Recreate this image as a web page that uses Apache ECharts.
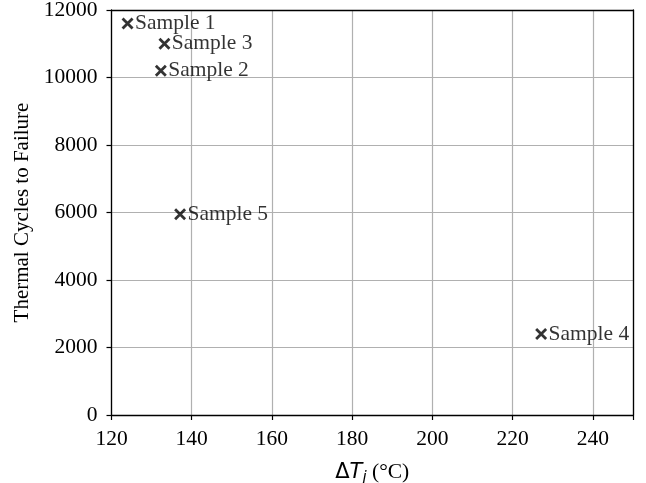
<!DOCTYPE html>
<html>
<head>
<meta charset="utf-8">
<script src="https://cdn.jsdelivr.net/npm/echarts@6/dist/echarts.min.js"></script>
<style>
  html, body { margin: 0; padding: 0; background: #fff; }
  #chart { width: 646px; height: 483px; }
</style>
</head>
<body>
<div id="chart"></div>
<script>
// 数据
var sampleNames = ['Sample 1', 'Sample 2', 'Sample 3', 'Sample 4', 'Sample 5'];
var deltaTj = [124.0, 132.3, 133.2, 227.1, 137.1];
var cycles = [11600, 10200, 11000, 2400, 5950];
var xTicks = [120, 140, 160, 180, 200, 220, 240];
var yTicks = [0, 2000, 4000, 6000, 8000, 10000, 12000];

var points = [];
for (var i = 0; i < sampleNames.length; i++) {
  points.push({ name: sampleNames[i], value: [deltaTj[i], cycles[i]] });
}

var serif = 'Liberation Serif';
var frameLine = { show: true, onZero: false, lineStyle: { color: '#000', width: 1.3 } };
var myChart = echarts.init(document.getElementById('chart'));
var option = {
  animation: false,
  grid: {
    left: 111.5,
    right: 13,
    top: 10,
    bottom: 68,
    outerBoundsMode: 'none'
  },
  xAxis: [
    {
      type: 'value',
      min: 120,
      max: 250,
      interval: 20,
      name: '{d|Δ}{m|T}{s|j}{n| (°C)}',
      nameLocation: 'middle',
      nameGap: 44,
      nameTextStyle: {
        rich: {
          d: { fontFamily: 'DejaVu Sans', fontSize: 21, color: '#000' },
          m: { fontFamily: 'DejaVu Sans', fontStyle: 'italic', fontSize: 21, color: '#000' },
          s: { fontFamily: 'DejaVu Sans', fontStyle: 'italic', fontSize: 15, color: '#000', padding: [12, 0, 0, 0] },
          n: { fontFamily: serif, fontSize: 21.5, color: '#000' }
        }
      },
      axisLine: frameLine,
      axisTick: { show: true, length: 5, lineStyle: { color: '#000', width: 1.2 } },
      axisLabel: {
        color: '#000', fontFamily: serif, fontSize: 21.5, margin: 13,
        formatter: function (v) { return xTicks.indexOf(v) >= 0 ? String(v) : ''; }
      },
      splitLine: { show: true, lineStyle: { color: '#b0b0b0', width: 1.2 } }
    },
    {
      type: 'value',
      position: 'top',
      min: 120,
      max: 250,
      axisLine: frameLine,
      axisTick: { show: false },
      axisLabel: { show: false },
      splitLine: { show: false }
    }
  ],
  yAxis: [
    {
      type: 'value',
      min: 0,
      max: 12000,
      interval: 2000,
      name: 'Thermal Cycles to Failure',
      nameLocation: 'middle',
      nameGap: 78,
      nameTextStyle: { color: '#000', fontFamily: serif, fontSize: 21 },
      axisLine: frameLine,
      axisTick: { show: true, length: 5, lineStyle: { color: '#000', width: 1.2 } },
      axisLabel: {
        color: '#000', fontFamily: serif, fontSize: 21.5, margin: 14,
        formatter: function (v) { return yTicks.indexOf(v) >= 0 ? String(v) : ''; }
      },
      splitLine: { show: true, lineStyle: { color: '#b0b0b0', width: 1.2 } }
    },
    {
      type: 'value',
      position: 'right',
      min: 0,
      max: 12000,
      axisLine: frameLine,
      axisTick: { show: false },
      axisLabel: { show: false },
      splitLine: { show: false }
    }
  ],
  series: [
    {
      type: 'scatter',
      data: points,
      symbol: 'path://M0,0L10,10M10,0L0,10',
      symbolSize: 10,
      itemStyle: { color: '#000', borderColor: '#000', borderWidth: 2.8 },
      label: {
        show: true,
        position: 'right',
        distance: 1,
        formatter: '{b}',
        color: '#000',
        fontFamily: serif,
        fontSize: 21.5
      }
    }
  ]
};
myChart.setOption(option);
</script>
</body>
</html>
